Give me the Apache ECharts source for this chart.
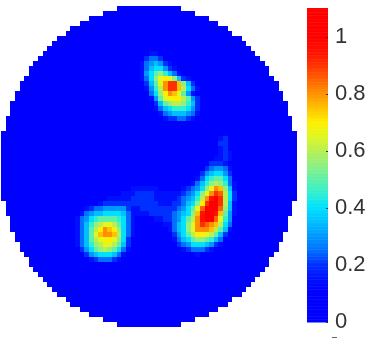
<!DOCTYPE html>
<html>
<head>
<meta charset="utf-8">
<style>
  html, body { margin: 0; padding: 0; background: #fff; }
  #main { width: 378px; height: 342px; }
</style>
</head>
<body>
<div id="main"></div>
<script src="https://cdn.jsdelivr.net/npm/echarts@6/dist/echarts.min.js"></script>
<script>
var gridSize = 64;
var valueMax = 1.1;
var tickValues = [0, 0.2, 0.4, 0.6, 0.8, 1];
// first filled column of each row of the disc, last one mirrors it
var discStart = [
  25, 22, 19, 17, 15, 14, 12, 11, 10, 9, 8, 7, 6, 6, 5, 4, 4, 3, 3, 2, 2, 2, 1, 1, 1,
  0, 0, 0, 0, 0, 0, 0, 0, 0, 0, 0, 0, 0, 0,
  1, 1, 1, 2, 2, 2, 3, 3, 4, 4, 5, 6, 6, 7, 8, 9, 10, 11, 12, 14, 15, 17, 19, 22, 25
];
// colour per 0.05 step of the bar
var barColors = [
  '#0000ff', '#0000ff', '#0000ff', '#0010ff', '#0030ff', '#0070ff', '#0098ff', '#00c0ff',
  '#00e0ff', '#30f0d0', '#60f0a8', '#90f080', '#b8f050', '#e0f820', '#ffee00', '#ffc000',
  '#ff9000', '#ff6000', '#ff3000', '#ff1000', '#ff0000', '#ff0000', '#ff0000'
];
// patches, one char per cell, base 36 in 0.05 steps
var topSpotOrigin = [8, 29];
var topSpot = [
  '000110000000000',
  '012332100000000',
  '024554210000000',
  '135676431000000',
  '135788643210000',
  '1368ab975321000',
  '1358bdedb743100',
  '0247adgiifb7420',
  '01369cgiifc8531',
  '00258begfda6310',
  '00136adeeeca642',
  '000247abccb9742',
  '000135789998642',
  '000013567776531',
  '000001344554321',
  '000000122222110'
];
var rightSpotOrigin = [30, 35];
var rightSpot = [
  '00000000012332100',
  '00000000124443200',
  '00000001245665310',
  '00000012467886420',
  '00000123589aa8520',
  '0000123579bcb9530',
  '112234568bdgfb730',
  '22334568bdgihc840',
  '23345679cgjkic840',
  '3344578beikkic730',
  '344568adhkkkhb730',
  '345678bfjkkjfa630',
  '34568acgjkkhd9620',
  '23578bdgihgfc8520',
  '23578bdgggfca7310',
  '12468aceedca74200',
  '123578abba9752100',
  '01245688876431000',
  '00123455543210000',
  '00011223221100000'
];
var leftSpotOrigin = [38, 15];
var leftSpot = [
  '000000123333333',
  '000012344444333',
  '012345566666433',
  '123567788887533',
  '135689aaaa98532',
  '13579bcddca8532',
  '1357acegfeb8532',
  '1357adfggfc8531',
  '1357acdeedb8421',
  '13579bcddca7420',
  '12468abcba85310',
  '012467888753200',
  '001234555432100',
  '000112222210000'
];
var bridgeOrigin = [35, 24];
var bridge = [
  '0000112222111',
  '0012333333222',
  '1233344443333',
  '3333444443333',
  '3344444444333',
  '0000334444444',
  '0000033344444',
  '0000000123344',
  '0000000001233'
];
var streakOrigin = [25, 46];
var streak = [
  '0220',
  '1341',
  '1441',
  '1342',
  '1343',
  '0243'
];

function buildCells() {
  var levels = {};
  function addPatch(origin, rows) {
    rows.forEach(function (line, r) {
      for (var c = 0; c < line.length; c++) {
        var key = (origin[0] + r) + '_' + (origin[1] + c);
        var level = parseInt(line[c], 36);
        if (!levels[key] || levels[key] < level) levels[key] = level;
      }
    });
  }
  addPatch(topSpotOrigin, topSpot);
  addPatch(rightSpotOrigin, rightSpot);
  addPatch(leftSpotOrigin, leftSpot);
  addPatch(bridgeOrigin, bridge);
  addPatch(streakOrigin, streak);

  var cells = [];
  discStart.forEach(function (start, row) {
    for (var col = start; col < gridSize - start; col++) {
      cells.push([col, row, (levels[row + '_' + col] || 0) * 0.05]);
    }
  });
  return cells;
}

// colour bar strips, one per 0.005 of the scale
function buildBar() {
  var strips = [];
  for (var n = 0; n < 220; n++) {
    strips.push([n * 0.005, (n + 1) * 0.005, n * 0.005]);
  }
  return strips;
}

// whole pixel rects, a heatmap series leaves seams between fractional cells
function renderCell(params, api) {
  var center = api.coord([api.value(0), api.value(1)]);
  var size = api.size([1, 1]);
  var x0 = Math.round(center[0] - size[0] / 2);
  var x1 = Math.round(center[0] + size[0] / 2);
  var y0 = Math.round(center[1] - size[1] / 2);
  var y1 = Math.round(center[1] + size[1] / 2);
  return {
    type: 'rect',
    shape: { x: x0, y: y0, width: x1 - x0, height: y1 - y0 },
    style: { fill: api.visual('color') }
  };
}

function renderStrip(params, api) {
  var low = api.coord([0, api.value(0)]);
  var high = api.coord([1, api.value(1)]);
  return {
    type: 'rect',
    shape: { x: low[0], y: high[1], width: high[0] - low[0], height: low[1] - high[1] + 0.5 },
    style: { fill: api.visual('color') }
  };
}

// short inner tick on the right edge of the bar
function renderTick(params, api) {
  var end = api.coord([1, api.value(0)]);
  return {
    type: 'rect',
    shape: { x: end[0] - 2, y: Math.round(end[1]), width: 2, height: 1 },
    style: { fill: '#333' }
  };
}

var indexLabels = [];
for (var i = 0; i < gridSize; i++) indexLabels.push(i);

var chart = echarts.init(document.getElementById('main'), null, { renderer: 'canvas' });
chart.setOption({
  backgroundColor: '#fff',
  animation: false,
  grid: [
    { left: 1, top: 5.5, width: 296, height: 321.5 },
    { left: 307, top: 8, width: 21, height: 314 }
  ],
  xAxis: [
    { type: 'category', gridIndex: 0, data: indexLabels, show: false },
    { type: 'value', gridIndex: 1, min: 0, max: 1, show: false }
  ],
  yAxis: [
    { type: 'category', gridIndex: 0, data: indexLabels, inverse: true, show: false },
    {
      type: 'value',
      gridIndex: 1,
      position: 'right',
      min: 0,
      max: valueMax,
      axisLine: { show: false },
      splitLine: { show: false },
      axisTick: { show: false },
      axisLabel: {
        customValues: tickValues,
        margin: 7,
        color: '#333',
        fontFamily: 'Liberation Sans',
        fontSize: 22,
        padding: [4, 0, 0, 0],
        formatter: function (v) { return String(v); }
      }
    }
  ],
  visualMap: {
    type: 'continuous',
    show: false,
    seriesIndex: [0, 1],
    dimension: 2,
    min: 0,
    max: valueMax,
    inRange: { color: barColors }
  },
  graphic: [{
    type: 'rect',
    shape: { x: 332, y: 337, width: 5, height: 1 },
    style: { fill: '#666' }
  }],
  series: [
    {
      type: 'custom',
      xAxisIndex: 0,
      yAxisIndex: 0,
      encode: { x: 0, y: 1 },
      data: buildCells(),
      renderItem: renderCell,
      silent: true
    },
    {
      type: 'custom',
      xAxisIndex: 1,
      yAxisIndex: 1,
      encode: { y: [0, 1] },
      data: buildBar(),
      renderItem: renderStrip,
      silent: true
    },
    {
      type: 'custom',
      xAxisIndex: 1,
      yAxisIndex: 1,
      z: 5,
      encode: { y: 0 },
      data: tickValues.map(function (v) { return [v]; }),
      renderItem: renderTick,
      silent: true
    }
  ]
});
</script>
</body>
</html>
